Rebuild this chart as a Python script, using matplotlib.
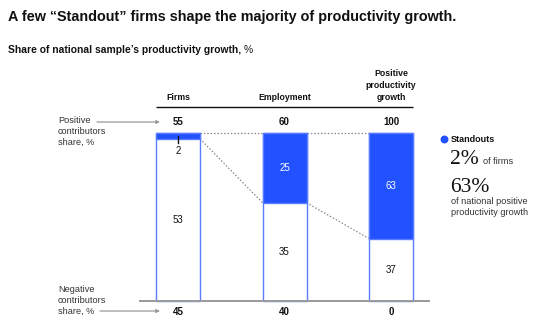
import matplotlib.pyplot as plt

W, H = 541, 328

categories = ["Firms", "Employment", "Positive\nproductivity\ngrowth"]
positive_total = [55, 60, 100]
negative_total = [45, 40, 0]
standouts = [2, 25, 63]
others = [53, 35, 37]

BLUE = "#2251ff"
EDGE = "#5a7dff"
GREY = "#9a9a9a"
INK = "#111111"

plt.rcParams["font.family"] = ["Liberation Sans", "DejaVu Sans"]

fig = plt.figure(figsize=(W / 100, H / 100), dpi=100)
ax = fig.add_axes([0, 0, 1, 1])
ax.set_xlim(-1.671, 3.408)
ax.set_ylim(-16.25, 179.0)
ax.axis("off")


def px(x, y):
    """pixel position (from top-left) to figure fraction"""
    return x / W, 1 - y / H


x = list(range(len(categories)))
width = 0.413

# each bar is scaled to its own positive total
std_pct = [s / t * 100 for s, t in zip(standouts, positive_total)]
oth_pct = [o / t * 100 for o, t in zip(others, positive_total)]

ax.bar(x, [100] * 3, width=width, color="white", edgecolor=EDGE, linewidth=1.0, zorder=2)
ax.bar(x, std_pct, bottom=oth_pct, width=width, color=BLUE, edgecolor=EDGE, linewidth=1.0, zorder=3)

# dotted connectors between bars
for i in range(len(x) - 1):
    x0, x1 = x[i] + width / 2, x[i + 1] - width / 2
    ax.plot([x0, x1], [100, 100], color="#8a8a8a", lw=0.9, ls=(0, (1.2, 1.5)), zorder=1)
    ax.plot([x0, x1], [oth_pct[i], oth_pct[i + 1]], color="#8a8a8a", lw=0.9, ls=(0, (1.2, 1.5)), zorder=1)

# baseline and header rule
ax.plot([-0.366, 2.366], [0, 0], color=GREY, lw=1.4, zorder=4, solid_capstyle="butt")
ax.plot([-0.207, 2.207], [115.5, 115.5], color=INK, lw=1.0, solid_capstyle="butt")

# column headers
for xi, cat in zip(x, categories):
    ax.text(xi, 118.5, cat, ha="center", va="bottom", fontsize=6.3, fontweight="bold",
            color=INK, linespacing=1.4)

# totals above and below the bars
for xi, p, n in zip(x, positive_total, negative_total):
    ax.text(xi, 106.4, str(p), ha="center", va="center", fontsize=7, fontweight="bold", color=INK)
    ax.text(xi, -6.7, str(n), ha="center", va="center", fontsize=7, fontweight="bold", color=INK)

# segment labels
for xi, s, o, sp, op in zip(x, standouts, others, std_pct, oth_pct):
    ax.text(xi, op / 2, str(o), ha="center", va="center", fontsize=7, color=INK, zorder=5)
    if sp > 10:
        ax.text(xi, op + sp / 2, str(s), ha="center", va="center", fontsize=7, color="white", zorder=5)
    else:
        ax.plot([xi, xi], [98, 94], color=INK, lw=1.0, zorder=5)
        ax.text(xi, 89, str(s), ha="center", va="center", fontsize=7, color=INK, zorder=5)

# title and subtitle
fig.text(*px(8, 17), "A few \u201cStandout\u201d firms shape the majority of productivity growth.",
         fontsize=10.4, fontweight="bold", color=INK, va="center")
sub = fig.text(*px(8, 50), "Share of national sample\u2019s productivity growth,",
               fontsize=7.4, fontweight="bold", color=INK, va="center")
fig.canvas.draw()
bb = sub.get_window_extent()
fig.text(bb.x1 / W + 3 / W, px(0, 50)[1], "%", fontsize=7.4, color=INK, va="center")

# left-side annotations with arrows
fig.text(*px(58, 116), "Positive\ncontributors\nshare, %", fontsize=6.6, color="#333333",
         va="top", linespacing=1.3)
fig.text(*px(58, 316), "Negative\ncontributors\nshare, %", fontsize=6.6, color="#333333",
         va="bottom", linespacing=1.3)
arrow = dict(arrowstyle="-|>", color=GREY, lw=0.9, mutation_scale=5, shrinkA=0, shrinkB=0)
ax.annotate("", xy=px(160, 122), xytext=px(97, 122), xycoords="figure fraction",
            textcoords="figure fraction", arrowprops=arrow)
ax.annotate("", xy=px(160, 311), xytext=px(100, 311), xycoords="figure fraction",
            textcoords="figure fraction", arrowprops=arrow)

# legend block
ax.scatter([px(444, 139)[0]], [px(444, 139)[1]], s=22, color=BLUE, transform=fig.transFigure,
           clip_on=False)
fig.text(*px(451, 139), "Standouts", fontsize=6.5, fontweight="bold", color=INK, va="center")
fig.text(*px(450, 164), "2%", fontsize=15.5, family="Liberation Serif", color=INK, va="baseline")
fig.text(*px(483, 164), "of firms", fontsize=6.6, color="#333333", va="baseline")
fig.text(*px(450, 192), "63%", fontsize=15.5, family="Liberation Serif", color=INK, va="baseline")
fig.text(*px(451, 197), "of national positive\nproductivity growth", fontsize=6.6,
         color="#333333", va="top", linespacing=1.3)

fig.savefig("out.png", dpi=100)
